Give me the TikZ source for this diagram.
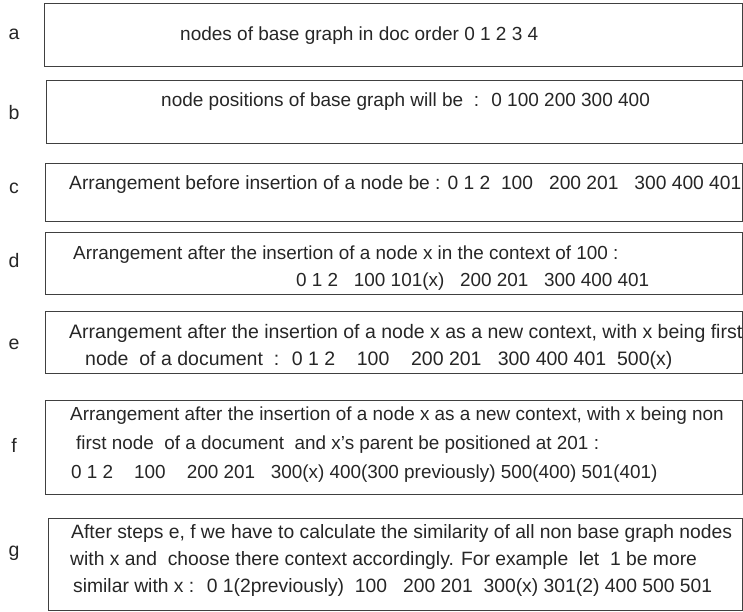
\documentclass[tikz,border=0pt]{standalone}
\usepackage{fontspec}
\setmainfont{Liberation Sans}
\usetikzlibrary{positioning}

\begin{document}
\begin{tikzpicture}[x=1pt, y=-1pt]
	\tikzset{stepbox/.style={draw=black!75, line width=1pt, inner sep=0pt}}
	\tikzset{steptag/.style={anchor=base, inner sep=0pt, font=\fontsize{19.5}{27}\selectfont, text=black!85}}
	\tikzset{stepline/.style={anchor=base west, inner sep=0pt, font=\fontsize{#1}{27}\selectfont, text=black!85}, stepline/.default=19}
		\useasboundingbox (0,0) rectangle (743,611);
		\foreach \name/\left/\top/\bot in {a/44/3/66, b/46/80/143, c/45/163/221, d/45/232/294, e/45/311/373, f/45/400/494, g/48/518/610}
		{\node[stepbox, minimum width={(742-\left)*1pt}, minimum height={(\bot-\top)*1pt}] (box\name) at ({(\left+742)/2}, {(\top+\bot)/2}) {};}
		\foreach \name/\y in {a/39, b/119, c/193, d/267, e/349, f/452, g/556}
		{\node[steptag] (tag\name) at (14,\y) {\name};}
		% step texts
		\node[stepline] (la) at (180,40) {nodes of base graph in doc order 0 1 2 3 4};
		\node[stepline] (lb) at (161,106) {node positions of base graph will be~ :~ 0 100 200 300 400};
		\node[stepline=19.2] (lc) at (69,189) {Arrangement before insertion of a node be : 0 1 2~ 100~~ 200 201~~ 300 400 401};
		\node[stepline=18.9] (ld1) at (73,259) {Arrangement after the insertion of a node x in the context of 100 :};
		\node[stepline=18.9] (ld2) at (296,286) {0 1 2~~ 100 101(x)~~ 200 201~~ 300 400 401};
		\node[stepline=19.5] (le1) at (69,338) {Arrangement after the insertion of a node x as a new context, with x being first};
		\node[stepline=19.5] (le2) at (85,365) {node~ of a document~ :~ 0 1 2~~~ 100~~~ 200 201~~ 300 400 401~ 500(x)};
		\node[stepline=18.9] (lf1) at (70,420) {Arrangement after the insertion of a node x as a new context, with x being non};
		\node[stepline=18.9] (lf2) at (76,449) {first node~ of a document~ and x’s parent be positioned at 201 :};
		\node[stepline=18.9] (lf3) at (71,478) {0 1 2~~~ 100~~~ 200 201~~ 300(x) 400(300 previously) 500(400) 501(401)};
		\node[stepline=19.3] (lg1) at (71,538) {After steps e, f we have to calculate the similarity of all non base graph nodes};
		\node[stepline=19.3] (lg2) at (70,565) {with x and~ choose there context accordingly. For example~ let~ 1 be more};
		\node[stepline=19.3] (lg3) at (73,592) {similar with x :~ 0 1(2previously)~ 100~~ 200 201~ 300(x) 301(2) 400 500 501};
\end{tikzpicture}
\end{document}
